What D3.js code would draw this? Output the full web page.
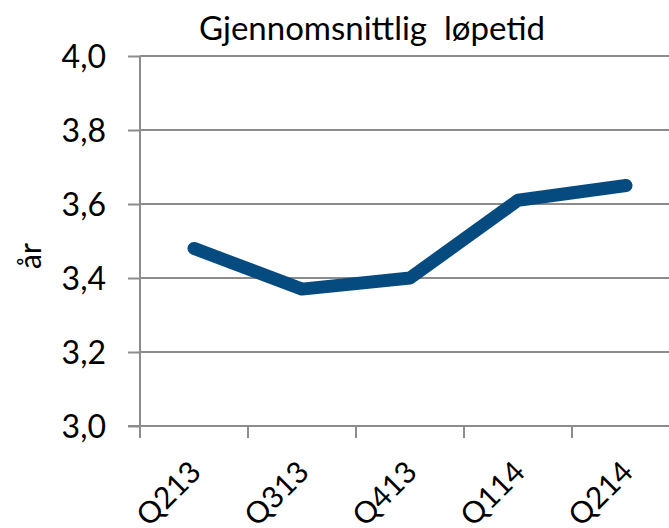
<!DOCTYPE html>
<html>
<head>
<meta charset="utf-8">
<script src="https://cdn.jsdelivr.net/npm/d3@7"></script>
<style>
	body { margin: 0; background: #fff; }
	text { font-family: Lato, "Open Sans", sans-serif; fill: #000; }
</style>
</head>
<body>
<svg id="chart" width="669" height="528"></svg>
<script>
var quarters = ["Q213", "Q313", "Q413", "Q114", "Q214"];
var loepetid = [3.48, 3.37, 3.40, 3.61, 3.65];
var yTicks = [3.0, 3.2, 3.4, 3.6, 3.8, 4.0];

(function() {
	"use strict";

	var svg = d3.select("#chart"),
		margin = { top: 56, left: 140, bottom: 102 },
		height = 528 - margin.top - margin.bottom,
		bandW = 108,
		gridColor = "#8c8c8c";

	var xScale = d3.scaleBand()
		.domain(quarters)
		.range([0, bandW * quarters.length]);

	var yScale = d3.scaleLinear()
		.domain([3.0, 4.0])
		.range([height, 0]);

	var g = svg.append("g")
		.attr("transform", "translate(" + margin.left + "," + margin.top + ")");

	// grid lines
	g.selectAll("line.grid")
		.data(yTicks.slice(1))
		.enter().append("line")
		.attr("class", "grid")
		.attr("x1", 0)
		.attr("x2", 669 - margin.left)
		.attr("y1", function(d) { return yScale(d); })
		.attr("y2", function(d) { return yScale(d); })
		.style("stroke", gridColor)
		.style("stroke-width", 2);

	// y axis
	var yAxis = g.append("g")
		.call(d3.axisLeft(yScale)
			.tickValues(yTicks)
			.tickSize(12)
			.tickPadding(22)
			.tickFormat(function(d) { return d3.format(".1f")(d).replace(".", ","); }));
	yAxis.select(".domain").remove();
	yAxis.selectAll(".tick line").style("stroke", gridColor).style("stroke-width", 2);
	yAxis.selectAll(".tick text")
		.style("font-size", "32px")
		.style("font-family", "Lato, sans-serif")
		.attr("dy", "0.35em");

	g.append("line")
		.attr("x1", 0).attr("x2", 0)
		.attr("y1", 0).attr("y2", height)
		.style("stroke", gridColor)
		.style("stroke-width", 2);

	// x axis with ticks between categories
	var xAxisG = g.append("g")
		.attr("transform", "translate(0," + height + ")");
	xAxisG.append("line")
		.attr("x1", -12).attr("x2", 669 - margin.left)
		.style("stroke", gridColor)
		.style("stroke-width", 2);
	xAxisG.selectAll("line.tick")
		.data(quarters)
		.enter().append("line")
		.attr("class", "tick")
		.attr("x1", function(d) { return xScale(d); })
		.attr("x2", function(d) { return xScale(d); })
		.attr("y1", 0).attr("y2", 12)
		.style("stroke", gridColor)
		.style("stroke-width", 2);
	xAxisG.selectAll("text")
		.data(quarters)
		.enter().append("text")
		.attr("transform", function(d) {
			return "translate(" + (xScale(d) + xScale.bandwidth() / 2 - 6) + ",33) rotate(-45)";
		})
		.attr("text-anchor", "end")
		.attr("dy", "0.7em")
		.style("font-size", "30px")
		.text(function(d) { return d; });

	// line
	var line = d3.line()
		.x(function(d, i) { return xScale(quarters[i]) + xScale.bandwidth() / 2; })
		.y(function(d) { return yScale(d); });

	g.append("path")
		.datum(loepetid)
		.attr("d", line)
		.style("fill", "none")
		.style("stroke", "#064b80")
		.style("stroke-width", 13)
		.style("stroke-linecap", "round")
		.style("stroke-linejoin", "round");

	// title
	svg.append("text")
		.attr("x", 372)
		.attr("y", 40)
		.attr("text-anchor", "middle")
		.style("font-size", "33px")
		.style("white-space", "pre")
		.attr("xml:space", "preserve")
		.text("Gjennomsnittlig  løpetid");

	// y label
	svg.append("text")
		.attr("transform", "translate(41,256) rotate(-90)")
		.attr("text-anchor", "middle")
		.style("font-size", "30px")
		.text("år");
})();
</script>
</body>
</html>
